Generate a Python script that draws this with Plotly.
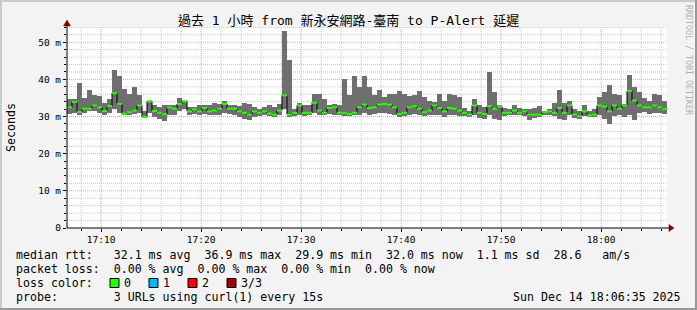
import plotly.graph_objects as go
import pandas as pd

# ---------------- data ----------------
start_time = "2025-12-14 17:06:35"
end_time = "2025-12-14 18:06:35"
step_seconds = 30

median_ms = [
    32.5, 33.9, 31.2, 32.1, 32.1, 33.0, 32.5, 31.5, 32.8, 36.3,
    33.4, 30.8, 31.2, 31.6, 33.0, 29.9, 34.1, 31.5, 31.0, 30.6,
    32.4, 32.1, 33.4, 34.1, 31.4, 31.9, 31.4, 32.3, 31.4, 31.6,
    32.1, 33.4, 32.1, 32.1, 31.4, 31.0, 30.5, 31.4, 31.0, 31.4,
    30.8, 30.5, 31.6, 35.7, 30.5, 31.0, 33.0, 31.0, 31.0, 33.7,
    31.6, 31.0, 32.3, 32.5, 31.0, 31.0, 30.7, 31.0, 32.5, 33.2,
    32.3, 32.5, 33.2, 33.4, 33.2, 32.5, 30.7, 31.0, 32.5, 32.8,
    32.1, 31.2, 31.6, 33.0, 32.3, 31.4, 32.3, 32.1, 31.6, 31.0,
    30.5, 33.0, 31.0, 30.7, 32.8, 32.1, 32.7, 31.0, 31.0, 31.6,
    31.0, 31.4, 30.5, 30.5, 30.5, 31.2, 31.4, 31.0, 32.3, 31.0,
    33.0, 30.5, 30.1, 31.4, 30.3, 30.5, 33.0, 32.7, 31.4, 33.0,
    32.1, 33.0, 36.9, 34.3, 33.0, 32.5, 32.5, 33.0, 32.5, 32.0,
]

smoke_min_ms = [
    30.7, 31.0, 30.5, 31.0, 31.4, 31.4, 31.0, 30.5, 31.0, 32.1,
    31.0, 30.3, 30.5, 30.7, 31.0, 29.6, 31.0, 29.8, 29.4, 28.9,
    30.5, 30.5, 31.6, 32.1, 30.5, 30.7, 30.5, 30.7, 30.5, 30.3,
    30.5, 31.0, 30.7, 30.5, 29.8, 29.4, 29.2, 29.8, 30.1, 30.3,
    30.1, 29.8, 30.5, 32.1, 29.8, 30.1, 30.5, 30.1, 30.5, 31.0,
    30.5, 30.3, 30.7, 30.5, 30.3, 30.1, 30.1, 30.3, 30.5, 31.0,
    30.5, 30.7, 31.0, 31.0, 30.7, 30.5, 29.8, 30.1, 30.5, 30.7,
    30.3, 30.1, 30.3, 30.5, 30.3, 29.8, 30.5, 30.3, 30.1, 30.1,
    29.8, 30.3, 29.5, 29.4, 30.3, 29.4, 29.2, 30.1, 30.3, 30.5,
    30.3, 30.1, 29.2, 29.5, 29.8, 30.3, 30.3, 30.1, 29.4, 29.2,
    30.3, 29.5, 29.4, 30.1, 29.8, 29.8, 30.3, 29.4, 28.0, 30.1,
    30.3, 29.8, 30.5, 29.0, 31.0, 31.2, 30.7, 31.0, 31.0, 30.7,
]

smoke_max_ms = [
    34.6, 34.8, 38.9, 35.0, 37.1, 35.7, 35.5, 33.7, 34.6, 42.5,
    41.0, 37.3, 36.2, 38.0, 35.7, 31.5, 34.3, 33.0, 32.5, 33.0,
    33.0, 33.0, 35.0, 34.3, 32.5, 32.5, 33.0, 33.0, 33.0, 33.7,
    33.4, 34.3, 33.0, 33.0, 32.8, 33.7, 33.4, 32.5, 32.1, 32.5,
    33.0, 32.5, 33.4, 53.1, 45.2, 32.1, 33.7, 33.0, 33.0, 36.2,
    36.2, 34.6, 33.0, 33.4, 33.0, 40.2, 35.9, 41.0, 38.0, 41.0,
    38.0, 35.7, 37.1, 35.2, 36.2, 36.2, 36.8, 36.2, 35.5, 35.9,
    36.8, 35.2, 34.3, 33.9, 36.2, 34.3, 36.2, 35.7, 35.2, 32.3,
    31.6, 34.8, 33.0, 32.5, 41.9, 36.6, 33.0, 32.3, 31.9, 33.0,
    32.3, 32.1, 32.1, 32.3, 32.8, 31.4, 32.1, 33.7, 37.1, 33.7,
    34.3, 32.1, 31.6, 33.0, 31.6, 32.1, 35.2, 36.6, 38.4, 36.2,
    35.7, 33.4, 41.1, 38.0, 36.6, 35.0, 34.3, 36.2, 35.7, 34.1,
]

x_tick_values = ["2025-12-14 17:10", "2025-12-14 17:20", "2025-12-14 17:30",
                 "2025-12-14 17:40", "2025-12-14 17:50", "2025-12-14 18:00"]
x_tick_labels = ["17:10", "17:20", "17:30", "17:40", "17:50", "18:00"]
y_tick_values = [0, 10, 20, 30, 40, 50]
y_tick_labels = ["0", "10 m", "20 m", "30 m", "40 m", "50 m"]

title_text = "過去 1 小時 from 新永安網路-臺南 to P-Alert 延遲"
y_title = "Seconds"
stats_line_1 = "median rtt:   32.1 ms avg  36.9 ms max  29.9 ms min  32.0 ms now  1.1 ms sd  28.6   am/s"
stats_line_2 = "packet loss:  0.00 % avg  0.00 % max  0.00 % min  0.00 % now"
loss_label = "loss color:"
loss_names = ["0", "1", "2", "3/3"]
loss_colors = ["#26ff00", "#00b8ff", "#ff0000", "#a00000"]
probe_line = "probe:        3 URLs using curl(1) every 15s"
date_stamp = "Sun Dec 14 18:06:35 2025"
side_text = "RRDTOOL / TOBI OETIKER"

# ---------------- layout constants ----------------
W, H = 697, 310
L, R, T, B = 67, 30, 27, 82
PW, PH = W - L - R, H - T - B
Y_TOP = 54.1
MONO = "DejaVu Sans Mono, Noto Sans CJK TC, monospace"
MAJOR_GRID = "#ec9c9c"
MINOR_GRID = "#c6c6c6"
GRID_DASH = "1px,1px"


def px_x(px):
    return (px - L) / PW


def px_y(py):
    return (T + PH - py) / PH


def nb(s):
    return s.replace(" ", "\u00a0")


n = len(median_ms)
starts = pd.date_range(start_time, periods=n, freq=f"{step_seconds}s")
ends = starts + pd.Timedelta(seconds=step_seconds)
centers = starts + pd.Timedelta(seconds=step_seconds / 2)

fig = go.Figure()

# smoke
fig.add_trace(go.Bar(
    x=centers, base=smoke_min_ms,
    y=[mx - mn for mx, mn in zip(smoke_max_ms, smoke_min_ms)],
    width=step_seconds * 1000, marker=dict(color="#6f6f6f", line=dict(width=0)),
    hoverinfo="skip", showlegend=False,
))

# median black step line
step_x = list(starts) + [ends[-1]]
step_y = median_ms + [median_ms[-1]]
fig.add_trace(go.Scatter(
    x=step_x, y=step_y, mode="lines", line=dict(color="#000000", width=1, shape="hv"),
    hoverinfo="skip", showlegend=False,
))

# loss-coloured median segments
gx, gy = [], []
for s, e, m in zip(starts, ends, median_ms):
    gx += [s, e, None]
    gy += [m, m, None]
fig.add_trace(go.Scatter(
    x=gx, y=gy, mode="lines", line=dict(color=loss_colors[0], width=2),
    hoverinfo="skip", showlegend=False,
))

fig.update_xaxes(
    type="date", range=[start_time, end_time],
    tickmode="array", tickvals=x_tick_values, ticktext=x_tick_labels,
    showgrid=False,
    ticks="outside", ticklen=3, tickcolor="#000", tickwidth=1,
    minor=dict(dtick=120000, tick0="2025-12-14 17:00", showgrid=False,
               ticks="outside", ticklen=2, tickcolor="#000"),
    showline=False, zeroline=False,
    tickfont=dict(family=MONO, size=9.5, color="#000"),
    fixedrange=True,
)
fig.update_yaxes(
    range=[0, Y_TOP], tickmode="array", tickvals=y_tick_values, ticktext=y_tick_labels,
    showgrid=False,
    ticks="outside", ticklen=3, tickcolor="#000",
    minor=dict(dtick=2, tick0=0, showgrid=False, ticks="outside", ticklen=2, tickcolor="#000"),
    showline=False, zeroline=False,
    tickfont=dict(family=MONO, size=9.5, color="#000"),
    fixedrange=True,
)

shapes = []
# grid (minor every 2 min / 2 ms, major every 10 min / 10 ms)
grid_start = pd.Timestamp("2025-12-14 17:00")
for k in range(4, 34):
    t = grid_start + pd.Timedelta(minutes=2 * k)
    if t <= pd.Timestamp(start_time) or t >= pd.Timestamp(end_time):
        continue
    col = MAJOR_GRID if (2 * k) % 10 == 0 else MINOR_GRID
    shapes.append(dict(type="line", xref="x", yref="paper", x0=t, x1=t, y0=0, y1=1,
                       line=dict(color=col, width=1, dash=GRID_DASH), layer="below"))
for v in range(2, 56, 2):
    if v >= Y_TOP:
        continue
    col = MAJOR_GRID if v % 10 == 0 else MINOR_GRID
    shapes.append(dict(type="line", xref="paper", yref="y", x0=0, x1=1, y0=v, y1=v,
                       line=dict(color=col, width=1, dash=GRID_DASH), layer="below"))
# frame shading
shapes.append(dict(type="rect", xref="paper", yref="paper", x0=px_x(0), x1=px_x(2),
                   y0=px_y(H), y1=px_y(0), fillcolor="#cbcbcb", line=dict(width=0), layer="below"))
shapes.append(dict(type="rect", xref="paper", yref="paper", x0=px_x(0), x1=px_x(W),
                   y0=px_y(2), y1=px_y(0), fillcolor="#cbcbcb", line=dict(width=0), layer="below"))
shapes.append(dict(type="rect", xref="paper", yref="paper", x0=px_x(W - 2), x1=px_x(W),
                   y0=px_y(H), y1=px_y(0), fillcolor="#999999", line=dict(width=0), layer="below"))
shapes.append(dict(type="rect", xref="paper", yref="paper", x0=px_x(0), x1=px_x(W),
                   y0=px_y(H), y1=px_y(H - 2), fillcolor="#999999", line=dict(width=0), layer="below"))
# axes lines
shapes.append(dict(type="line", xref="paper", yref="paper", x0=0, x1=px_x(670),
                   y0=0, y1=0, line=dict(color="#000", width=1), layer="above"))
shapes.append(dict(type="line", xref="paper", yref="paper", x0=0, x1=0,
                   y0=0, y1=px_y(23), line=dict(color="#000", width=1), layer="above"))
# arrow heads
shapes.append(dict(type="path", xref="paper", yref="paper",
                   path=f"M {px_x(669)} {px_y(224.5)} L {px_x(674)} {px_y(228)} L {px_x(669)} {px_y(231.5)} Z",
                   fillcolor="#7f0000", line=dict(color="#7f0000", width=0.5), layer="above"))
shapes.append(dict(type="path", xref="paper", yref="paper",
                   path=f"M {px_x(63.5)} {px_y(26)} L {px_x(67)} {px_y(20)} L {px_x(70.5)} {px_y(26)} Z",
                   fillcolor="#7f0000", line=dict(color="#7f0000", width=0.5), layer="above"))

annotations = []


def text_at(x, y, text, size=11.6, anchor="left", color="#000", angle=0):
    annotations.append(dict(
        xref="paper", yref="paper", x=px_x(x), y=px_y(y), text=nb(text),
        showarrow=False, xanchor=anchor, yanchor="middle", textangle=angle,
        font=dict(family=MONO, size=size, color=color), borderpad=0, borderwidth=0,
    ))


text_at(W / 2, 21, title_text, size=13, anchor="center")
text_at(11, 128, y_title, size=11.6, anchor="center", angle=-90)
text_at(16, 255, stats_line_1)
text_at(16, 269, stats_line_2)
text_at(16, 283, loss_label)
sq_left = [110, 149, 188, 227]
for left, name, col in zip(sq_left, loss_names, loss_colors):
    shapes.append(dict(type="rect", xref="paper", yref="paper",
                       x0=px_x(left), x1=px_x(left + 9), y0=px_y(287.5), y1=px_y(278.5),
                       fillcolor=col, line=dict(color="#000", width=1), layer="above"))
    text_at(left + 14, 283, name)
text_at(16, 297, probe_line)
text_at(681, 297, date_stamp, anchor="right")
text_at(689, 60, side_text, size=8.3, anchor="center", color="#b0b0b0", angle=90)

fig.update_layout(
    width=W, height=H, margin=dict(l=L, r=R, t=T, b=B, pad=0),
    paper_bgcolor="#f3f3f3", plot_bgcolor="#ffffff",
    barmode="overlay", bargap=0, showlegend=False,
    shapes=shapes, annotations=annotations,
)

fig.write_html("out.html", config={"displayModeBar": False})
